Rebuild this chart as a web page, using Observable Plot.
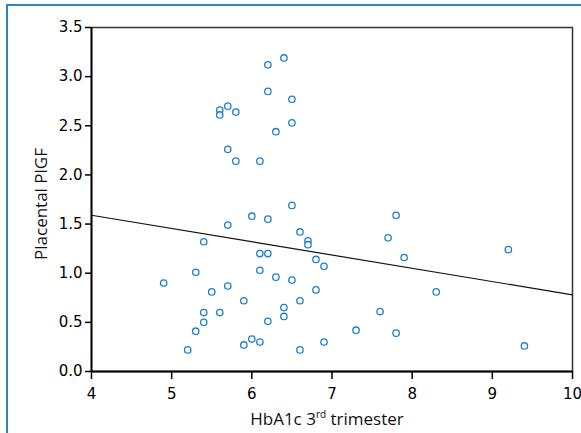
<!DOCTYPE html>
<html><head><meta charset="utf-8">
<script src="https://cdn.jsdelivr.net/npm/d3@7"></script>
<script src="https://cdn.jsdelivr.net/npm/@observablehq/plot@0.6"></script>
<style>
body{margin:0;background:#fff;}
#wrap{position:relative;width:581px;height:433px;overflow:hidden;background:#fff;}
#border{position:absolute;left:6px;top:4px;right:-10px;bottom:-10px;border-left:2px solid #2b83cb;border-top:2px solid #2b83cb;}
#chart{position:absolute;left:0;top:0;}
</style></head><body>
<div id="wrap"><div id="border"></div><div id="chart"></div></div>
<script>
const hba1c = [6.4, 6.2, 6.2, 6.5, 5.6, 5.6, 5.7, 5.8, 6.5, 6.3, 5.7, 5.8, 6.1, 6.5, 6.0, 6.2, 5.7, 6.6, 6.7, 6.7, 5.4, 6.1, 6.2, 6.8, 6.9, 6.1, 6.3, 6.5, 5.3, 4.9, 5.7, 5.5, 6.8, 5.9, 6.6, 6.4, 5.4, 5.6, 6.4, 5.4, 6.2, 5.3, 6.0, 5.9, 6.1, 6.9, 5.2, 6.6, 7.8, 7.7, 7.9, 9.2, 8.3, 7.6, 7.3, 7.8, 9.4];
const plgf = [3.19, 3.12, 2.85, 2.77, 2.66, 2.61, 2.70, 2.64, 2.53, 2.44, 2.26, 2.14, 2.14, 1.69, 1.58, 1.55, 1.49, 1.42, 1.33, 1.29, 1.32, 1.20, 1.20, 1.14, 1.07, 1.03, 0.96, 0.93, 1.01, 0.90, 0.87, 0.81, 0.83, 0.72, 0.72, 0.65, 0.60, 0.60, 0.56, 0.50, 0.51, 0.41, 0.33, 0.27, 0.30, 0.30, 0.22, 0.22, 1.59, 1.36, 1.16, 1.24, 0.81, 0.61, 0.42, 0.39, 0.26];
const fitX = [4, 10];
const fitY = [1.59, 0.78];
const xTicks = [4, 5, 6, 7, 8, 9, 10];
const yTicks = [0, 0.5, 1, 1.5, 2, 2.5, 3, 3.5];
const xLabel = ["HbA1c 3", "rd", " trimester"];
const yLabel = "Placental PlGF";

const points = hba1c.map((x, i) => ({x, y: plgf[i]}));
const fit = fitX.map((x, i) => ({x, y: fitY[i]}));

const plot = Plot.plot({
  width: 581, height: 433,
  marginLeft: 91, marginRight: 9, marginTop: 27, marginBottom: 62,
  style: {fontFamily: "DejaVu Sans", fontSize: "15px", background: "transparent", overflow: "visible"},
  x: {domain: [4, 10], ticks: xTicks, label: null},
  y: {domain: [0, 3.5], ticks: yTicks, label: null},
  marks: [
    Plot.frame({stroke: "#333", strokeWidth: 1.5}),
    Plot.axisX({ticks: xTicks, tickSize: 8, tickPadding: 9, tickFormat: d3.format("d"), fontSize: 15, stroke: "#000", strokeWidth: 1.5, fill: "#000", label: null}),
    Plot.axisY({ticks: yTicks, tickSize: 6, tickPadding: 3, tickFormat: d3.format(".1f"), fontSize: 15, stroke: "#000", strokeWidth: 1.5, fill: "#000", label: null}),
    Plot.ruleX([4], {stroke: "#000", strokeWidth: 1.8}),
    Plot.ruleY([0], {stroke: "#000", strokeWidth: 1.8}),
    Plot.line(fit, {x: "x", y: "y", stroke: "#111", strokeWidth: 1.2}),
    Plot.dot(points, {x: "x", y: "y", r: 3.2, stroke: "#1f7fcc", strokeWidth: 1.3, fill: "white"})
  ]
});
document.getElementById("chart").appendChild(plot);

const svg = d3.select(plot);
const xl = svg.append("text")
  .attr("x", 327).attr("y", 425)
  .attr("text-anchor", "middle")
  .style("font-family", "'Open Sans', 'Noto Sans', sans-serif")
  .style("font-size", "17px").attr("fill", "#111");
xl.append("tspan").text(xLabel[0]);
xl.append("tspan").text(xLabel[1]).style("font-size", "10px").attr("dy", "-7");
xl.append("tspan").text(xLabel[2]).attr("dy", "7");

svg.append("text")
  .attr("transform", "translate(47,204) rotate(-90)")
  .attr("text-anchor", "middle")
  .style("font-family", "'Open Sans', 'Noto Sans', sans-serif")
  .style("font-size", "17px").attr("fill", "#111")
  .text(yLabel);
</script>
</body></html>
